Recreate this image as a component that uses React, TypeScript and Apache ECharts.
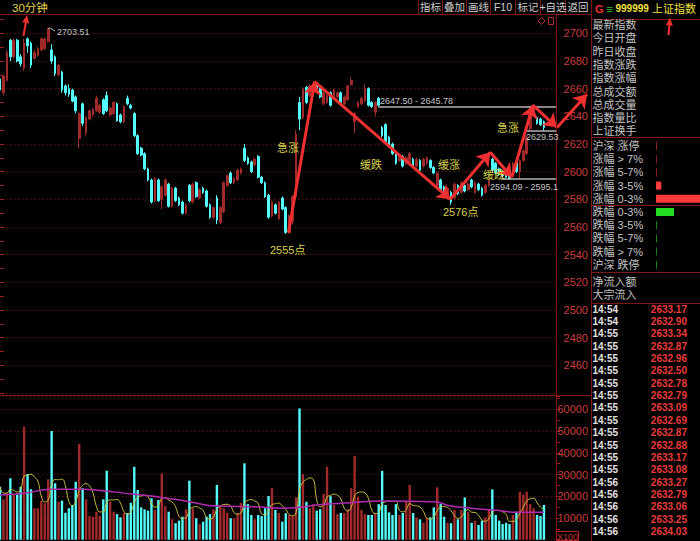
import React, { useEffect, useRef } from 'react';
import * as echarts from 'echarts';

const FONT = '"Liberation Sans", "Noto Sans CJK SC", sans-serif';

// ---- 30-minute candles (Shanghai Composite) ----
const opens = [
  2667, 2657, 2666, 2695, 2683, 2695, 2683, 2675, 2696, 2693,
  2682, 2684, 2688, 2689, 2694, 2688, 2683, 2670, 2672, 2662,
  2660, 2659, 2654, 2624, 2649, 2628, 2638, 2641, 2644, 2643,
  2652, 2655, 2641, 2642, 2649, 2641, 2636, 2653, 2648, 2642,
  2626, 2617, 2613, 2602, 2594, 2579, 2594, 2580, 2583, 2591,
  2575, 2588, 2581, 2578, 2570, 2590, 2578, 2592, 2581, 2588,
  2586, 2576, 2567, 2581, 2563, 2571, 2590, 2599, 2592, 2594,
  2599, 2617, 2610, 2607, 2605, 2611, 2596, 2592, 2583, 2568,
  2576, 2566, 2581, 2574, 2556, 2564, 2582, 2650, 2639, 2661,
  2655, 2661, 2663, 2660, 2649, 2650, 2657, 2653, 2654, 2657,
  2649, 2652, 2663, 2636, 2647, 2649, 2651, 2660, 2650, 2643,
  2653, 2632, 2634, 2625, 2620, 2613, 2608, 2611, 2606, 2607,
  2609, 2604, 2608, 2604, 2606, 2608, 2603, 2590, 2594, 2589,
  2581, 2585, 2581, 2590, 2585, 2590, 2587, 2594, 2585, 2591,
  2588, 2585, 2590, 2609, 2606, 2602, 2600, 2599, 2598, 2599,
  2607, 2600, 2608, 2613, 2631, 2642, 2639, 2638, 2636,
];
const closes = [
  2659, 2669, 2686, 2683, 2695, 2680, 2678, 2693, 2691, 2677,
  2686, 2689, 2696, 2696, 2703.51, 2680, 2671, 2677, 2659, 2657,
  2656, 2651, 2644, 2642, 2635, 2639, 2644, 2645, 2653, 2648,
  2642, 2644, 2646, 2650, 2637, 2636, 2647, 2649, 2646, 2626,
  2613, 2612, 2602, 2594, 2578, 2595, 2579, 2589, 2594, 2575,
  2588, 2579, 2576, 2570, 2576, 2579, 2591, 2582, 2587, 2585,
  2575, 2567, 2574, 2565, 2574, 2592, 2597, 2592, 2595, 2601,
  2602, 2608, 2606, 2600, 2609, 2596, 2592, 2582, 2567, 2578,
  2570, 2578, 2573, 2556, 2568, 2582, 2627, 2638, 2660, 2650,
  2662, 2664, 2658, 2654, 2657, 2655, 2648, 2659, 2657, 2650,
  2654, 2662, 2666, 2642, 2650, 2653, 2660, 2648, 2647, 2650,
  2648, 2626, 2621, 2619, 2613, 2606, 2612, 2604, 2610, 2613,
  2604, 2609, 2601, 2609, 2610, 2603, 2599, 2599, 2587, 2584,
  2588, 2578, 2591, 2584, 2592, 2586, 2591, 2589, 2592, 2587,
  2583, 2590, 2594, 2601, 2599, 2598, 2597, 2596, 2595, 2606,
  2600, 2608, 2615, 2625, 2646, 2648, 2635, 2634, 2632,
];
const lows = [
  2657, 2655, 2665, 2680, 2682, 2679, 2676, 2673, 2686, 2675,
  2681, 2683, 2687, 2688, 2693, 2678, 2669, 2669, 2657, 2655,
  2654, 2650, 2642, 2617, 2633, 2626, 2637, 2640, 2643, 2642,
  2641, 2643, 2640, 2641, 2636, 2635, 2635, 2648, 2645, 2625,
  2612, 2611, 2601, 2593, 2577, 2578, 2578, 2573, 2582, 2574,
  2574, 2578, 2575, 2569, 2569, 2578, 2577, 2581, 2580, 2584,
  2574, 2566, 2566, 2562, 2562, 2570, 2589, 2591, 2591, 2593,
  2598, 2607, 2605, 2599, 2604, 2595, 2591, 2581, 2566, 2567,
  2569, 2565, 2572, 2555, 2555, 2562, 2580, 2630, 2638, 2649,
  2654, 2660, 2657, 2653, 2648, 2649, 2647, 2652, 2653, 2649,
  2648, 2651, 2662, 2628, 2646, 2648, 2650, 2647, 2646, 2640,
  2647, 2625, 2620, 2618, 2612, 2605, 2607, 2603, 2605, 2606,
  2603, 2603, 2600, 2603, 2605, 2602, 2598, 2589, 2586, 2583,
  2580, 2576, 2580, 2583, 2584, 2585, 2586, 2588, 2584, 2586,
  2582, 2584, 2589, 2600, 2598, 2597, 2596, 2595, 2594.09, 2598,
  2599, 2594, 2607, 2612, 2630, 2641, 2634, 2633, 2629.53,
];
const highs = [
  2668, 2670, 2688, 2696, 2696, 2696, 2685, 2696, 2697, 2694,
  2688, 2690, 2697, 2697, 2703.51, 2692, 2684, 2678, 2673, 2663,
  2663, 2660, 2655, 2643, 2650, 2640, 2645, 2646, 2655, 2649,
  2653, 2658, 2647, 2651, 2650, 2642, 2648, 2655, 2649, 2643,
  2627, 2618, 2614, 2603, 2595, 2596, 2595, 2590, 2595, 2592,
  2589, 2589, 2582, 2579, 2577, 2591, 2592, 2593, 2588, 2589,
  2587, 2577, 2575, 2583, 2575, 2593, 2598, 2600, 2596, 2602,
  2603, 2620, 2611, 2608, 2610, 2612, 2597, 2593, 2584, 2579,
  2577, 2579, 2582, 2575, 2569, 2583, 2630, 2654, 2661, 2662,
  2663, 2665.5, 2664, 2661, 2658, 2656, 2658, 2660, 2658, 2658,
  2655, 2663, 2668, 2643, 2651, 2654, 2663, 2661, 2651, 2651,
  2654, 2633, 2635, 2626, 2621, 2614, 2613, 2612, 2611, 2614,
  2610, 2610, 2609, 2610, 2611, 2609, 2604, 2600, 2595, 2590,
  2589, 2586, 2592, 2591, 2593, 2591, 2592, 2595, 2593, 2592,
  2589, 2591, 2595, 2610, 2607, 2603, 2601, 2600, 2599, 2607,
  2608, 2609, 2616, 2626, 2647, 2649, 2640, 2639, 2637,
];
const volumes = [
  24400, 18600, 21400, 28300, 20800, 20800, 24400, 52100, 30300, 23200,
  14500, 14500, 18000, 16800, 27800, 50100, 26000, 17500, 18000, 12400,
  14500, 16000, 26700, 44100, 23700, 18600, 10900, 10600, 12900, 10900,
  18600, 31800, 17500, 12900, 11800, 10300, 12300, 12300, 17000, 33600,
  22900, 14900, 14000, 13400, 19100, 13700, 18300, 30600, 15500, 12900,
  9400, 7600, 8800, 10600, 14000, 27200, 14500, 9900, 7200, 8300,
  10600, 11800, 14000, 25200, 15500, 14500, 12400, 9900, 9900, 12300,
  17000, 35200, 16400, 11400, 9400, 11400, 10900, 14500, 20100, 23700,
  13700, 12300, 8300, 12200, 11400, 10900, 19500, 60500, 30300, 17500,
  14500, 16400, 13400, 14000, 21100, 33600, 20100, 16000, 11800, 12300,
  12400, 14000, 23700, 38600, 19800, 13700, 11800, 11400, 11400, 11800,
  16400, 31700, 16000, 12600, 11400, 16400, 11400, 12300, 17800, 25200,
  12300, 10300, 9400, 7800, 9900, 10300, 14900, 24100, 16400, 10600,
  7800, 7600, 13700, 9400, 13700, 19500, 12900, 7800, 8800, 6800,
  8800, 10300, 13700, 23200, 11400, 8800, 7200, 7800, 7200, 11400,
  12900, 22100, 20800, 22100, 16400, 14500, 11400, 10900, 16000,
];
// long volume average (purple) read at key candles: [candle index, volume]
const volLongAvg = [
  [0, 20600], [7, 21400], [15, 23200], [24, 23200], [29, 22700], [39, 20900],
  [47, 19500], [55, 17500], [63, 15500], [74, 15200], [82, 14500], [87, 14900],
  [92, 16000], [102, 17000], [111, 17800], [126, 17500], [131, 15500], [137, 14500],
  [145, 13400], [150, 12600], [158, 12600],
];
const SLOT_COUNT = 162;

// hand-drawn trend arrows: [candle position, price]
const trendPoints = [
  [83.8, 2556], [91.4, 2665], [130.8, 2580], [142.4, 2614],
  [148.7, 2596], [154.8, 2648], [161.8, 2632], [170.5, 2656],
];
// marked price levels: [start candle position, price]
const levelLines = [[109.9, 2646.7], [152.7, 2629.9], [145.4, 2595.2]];

// ---- side panel ----
const infoLabels = ['最新指数', '今日开盘', '昨日收盘', '指数涨跌', '指数涨幅', '总成交额', '总成交量', '指数量比', '上证换手'];
const breadthLabels = ['沪深 涨停', '涨幅 > 7%', '涨幅 5-7%', '涨幅 3-5%', '涨幅 0-3%', '跌幅 0-3%', '跌幅 3-5%', '跌幅 5-7%', '跌幅 > 7%', '沪深 跌停'];
const breadthValues = [0, 0, 0, 12, 140, 41, 0, 0, 0, 0];
const breadthColors = ['#8c2020', '#8c2020', '#8c2020', '#ff3a3a', '#ff3a3a', '#22dd22', '#1f7f1f', '#1f7f1f', '#1f7f1f', '#1f7f1f'];
const flowLabels = ['净流入额', '大宗流入'];
const tickTimes = ['14:54', '14:54', '14:55', '14:55', '14:55', '14:55', '14:55', '14:55', '14:55', '14:55', '14:55', '14:55', '14:55', '14:55', '14:56', '14:56', '14:56', '14:56', '14:56'];
const tickPrices = ['2633.17', '2632.90', '2633.34', '2632.87', '2632.96', '2632.50', '2632.78', '2632.79', '2633.09', '2632.69', '2632.87', '2632.88', '2633.17', '2633.08', '2633.27', '2632.79', '2633.06', '2633.25', '2634.03'];
const toolButtons = ['指标', '叠加', '画线', 'F10', '标记', '+自选', '返回'];

const UP = '#a02a2a';
const DOWN = '#54fcfc';
const BORDER = '#7c1818';
const YELLOW = '#d8d04c';
const GRAY = '#c4c4c4';

function buildGraphic() {
  const g: any[] = [];
  const line = (x1: number, y1: number, x2: number, y2: number, stroke = BORDER, lineWidth = 1) =>
    g.push({ type: 'line', silent: true, z: 100, shape: { x1, y1, x2, y2 }, style: { stroke, lineWidth } });
  const text = (x: number, y: number, t: string, fill: string, fontSize: number, extra: any = {}) =>
    g.push({
      type: 'text', silent: true, z: 110, x, y,
      style: { text: t, fill, fontSize, fontFamily: FONT, verticalAlign: 'middle', textVerticalAlign: 'middle', align: extra.align || 'left', textAlign: extra.align || 'left', fontWeight: extra.fontWeight || 'normal' },
    });
  const arrow = (x1: number, y1: number, x2: number, y2: number, len: number, half: number, w: number, color: string) => {
    const dx = x2 - x1, dy = y2 - y1, L = Math.hypot(dx, dy);
    const ux = dx / L, uy = dy / L;
    const bx = x2 - ux * len, by = y2 - uy * len;
    g.push({ type: 'line', silent: true, z: 100, shape: { x1, y1, x2: bx, y2: by }, style: { stroke: color, lineWidth: w } });
    g.push({ type: 'polygon', silent: true, z: 100, shape: { points: [[x2, y2], [bx - uy * half, by + ux * half], [bx + uy * half, by - ux * half]] }, style: { fill: color } });
  };

  // frame lines
  line(0, 14.5, 591, 14.5);
  line(0, 395.5, 591, 395.5);
  line(556.5, 14, 556.5, 541);
  line(591.5, 0, 591.5, 541);
  line(591, 19.5, 700, 19.5);
  line(591, 137.5, 700, 137.5);
  line(591, 205.5, 700, 205.5);
  line(591, 272.5, 700, 272.5);
  line(591, 303.5, 700, 303.5);

  // toolbar
  const seps = [418.5, 442.5, 466.5, 490.5, 515.5, 540.5, 565.5];
  seps.forEach((x) => line(x, 0, x, 14));
  const centers = [430.5, 454.5, 478.5, 503, 528, 553, 578];
  toolButtons.forEach((t, i) => text(centers[i], 7, t, '#cfcfcf', 10.5, { align: 'center' }));

  // small icons
  g.push({ type: 'polygon', silent: true, z: 100, shape: { points: [[541.5, 17.5], [545, 21], [541.5, 24.5], [538, 21]] }, style: { fill: 'none', stroke: '#b03030', lineWidth: 1 } });
  g.push({ type: 'rect', silent: true, z: 100, shape: { x: 548.5, y: 17.5, width: 5, height: 7 }, style: { fill: 'none', stroke: '#b03030', lineWidth: 1 } });

  // title + pointer
  text(12, 8, '30分钟', '#e2d64e', 11.5);
  arrow(23.5, 36, 27, 15, 8, 3.5, 2, '#f03030');

  // header of side panel
  text(595, 8.5, 'G', '#e83030', 11, { fontWeight: 'bold' });
  text(606.5, 8.5, '≡', '#30c030', 11);
  text(615.5, 8.5, '999999', '#f0e040', 10, { fontWeight: 'bold' });
  text(652, 8.5, '上证指数', '#f0e040', 11);
  arrow(668.5, 35, 670, 17.5, 8, 3.5, 2, '#f03030');

  // side panel texts
  infoLabels.forEach((t, i) => text(592.5, 25 + 13.3 * i, t, GRAY, 11));
  breadthLabels.forEach((t, i) => text(592.5, 146 + 13.2 * i, t, GRAY, 11));
  flowLabels.forEach((t, i) => text(592.5, 282 + 12.6 * i, t, GRAY, 11));
  tickTimes.forEach((t, i) => text(592.5, 309 + 12.37 * i, t, '#e0e0e0', 10, { fontWeight: 'bold' }));
  tickPrices.forEach((t, i) => text(687, 309 + 12.37 * i, t, '#e83c3c', 10, { align: 'right', fontWeight: 'bold' }));

  // volume unit box
  g.push({ type: 'rect', silent: true, z: 100, shape: { x: 556.5, y: 531.5, width: 22, height: 9 }, style: { fill: 'none', stroke: '#b02020', lineWidth: 1 } });
  text(567.5, 536.5, 'X100', '#c83232', 9, { align: 'center' });

  // annotations
  text(277, 148, '急涨', YELLOW, 11);
  text(270, 250, '2555点', YELLOW, 11);
  text(360, 165, '缓跌', YELLOW, 11);
  text(438, 165, '缓涨', YELLOW, 11);
  text(443, 212, '2576点', YELLOW, 11);
  text(483, 174.5, '缓跌', YELLOW, 11);
  text(497, 128, '急涨', YELLOW, 11);

  // price marks
  g.push({ type: 'polyline', silent: true, z: 100, shape: { points: [[48, 28.5], [50, 28], [55, 31]] }, style: { stroke: '#b0b0b0', lineWidth: 1, fill: 'none' } });
  text(57, 31.5, '2703.51', GRAY, 9);
  text(380, 101, '2647.50 - 2645.78', GRAY, 9);
  text(526, 137, '2629.53', GRAY, 9);
  text(490, 186.5, '2594.09 - 2595.1', GRAY, 9);
  return g;
}

function buildOption() {
  const slots = Array.from({ length: SLOT_COUNT }, (_, i) => String(i));
  const candles = opens.map((o, i) => [o, closes[i], lows[i], highs[i]]);
  const volBars = volumes.map((v, i) => ({ value: v, itemStyle: { color: closes[i] >= opens[i] ? UP : DOWN } }));
  const volMA5 = volumes.map((_, i) => {
    const s = volumes.slice(Math.max(0, i - 4), i + 1);
    return Math.round(s.reduce((a, b) => a + b, 0) / s.length);
  });
  const arrows = trendPoints.slice(1).map((p, i) => ({ coords: [trendPoints[i], p] }));
  const levels = levelLines.map(([x, p]) => ({ coords: [[x, p], [SLOT_COUNT - 0.5, p]] }));
  const labelStyle = { color: '#c83c3c', fontSize: 11, fontFamily: FONT, margin: 32, align: 'right' };
  const split = { show: true, lineStyle: { color: '#7e1a1a', type: [1, 3], width: 1 } };
  const tick = { show: true, length: 4, lineStyle: { color: '#a02020' } };

  return {
    animation: false,
    backgroundColor: '#000000',
    graphic: buildGraphic(),
    grid: [
      { left: -1.72, top: 14.5, width: 557.72, height: 378.5, outerBoundsMode: 'none', containLabel: false },
      { left: -1.72, top: 396, width: 557.72, height: 143.7, outerBoundsMode: 'none', containLabel: false },
      { left: 656, top: 139.4, width: 44, height: 132, outerBoundsMode: 'none', containLabel: false },
    ],
    xAxis: [
      { type: 'category', gridIndex: 0, data: slots, boundaryGap: true, show: false },
      { type: 'category', gridIndex: 1, data: slots, boundaryGap: true, show: false },
      { type: 'value', gridIndex: 0, min: -0.5, max: SLOT_COUNT - 0.5, show: false },
      { type: 'value', gridIndex: 2, min: 0, max: 100, show: false },
    ],
    yAxis: [
      {
        type: 'value', gridIndex: 0, position: 'right', min: 2440, max: 2713.6, interval: 20,
        axisLine: { show: false }, axisTick: tick,
        minorTick: { show: true, splitNumber: 2, length: 4, lineStyle: { color: '#a02020' } },
        axisLabel: { ...labelStyle, formatter: (v: number) => (v % 20 === 0 && v > 2440 && v <= 2700 ? String(v) : '') },
        splitLine: split,
      },
      {
        type: 'value', gridIndex: 1, position: 'right', min: 0, max: 66220, interval: 10000,
        axisLine: { show: false }, axisTick: tick,
        minorTick: { show: true, splitNumber: 2, length: 4, lineStyle: { color: '#a02020' } },
        axisLabel: { ...labelStyle, formatter: (v: number) => (v % 10000 === 0 && v >= 10000 && v <= 60000 ? String(v) : '') },
        splitLine: split,
      },
      { type: 'category', gridIndex: 2, data: breadthLabels, inverse: true, show: false },
    ],
    series: [
      {
        type: 'candlestick', xAxisIndex: 0, yAxisIndex: 0, data: candles, barWidth: 2.2,
        itemStyle: { color: UP, color0: DOWN, borderColor: UP, borderColor0: DOWN, borderWidth: 1 },
      },
      { type: 'bar', xAxisIndex: 1, yAxisIndex: 1, data: volBars, barWidth: 2.4 },
      {
        type: 'line', xAxisIndex: 1, yAxisIndex: 1, data: volMA5, smooth: true, showSymbol: false, symbol: 'none',
        lineStyle: { color: '#c8c03c', width: 1 }, z: 5,
      },
      {
        type: 'line', xAxisIndex: 1, yAxisIndex: 1, data: volLongAvg, smooth: true, showSymbol: false, symbol: 'none',
        lineStyle: { color: '#b02ab0', width: 1.5 }, z: 6,
      },
      {
        type: 'lines', coordinateSystem: 'cartesian2d', xAxisIndex: 2, yAxisIndex: 0, data: levels,
        symbol: 'none', lineStyle: { color: '#b4b4b4', width: 1.5, opacity: 1 }, z: 8,
      },
      {
        type: 'lines', coordinateSystem: 'cartesian2d', xAxisIndex: 2, yAxisIndex: 0, data: arrows, clip: false,
        symbol: ['none', 'arrow'], symbolSize: 13, lineStyle: { color: '#f03030', width: 3, opacity: 1 }, z: 20,
      },
      {
        type: 'bar', xAxisIndex: 3, yAxisIndex: 2, barWidth: 8, barMinHeight: 1,
        data: breadthValues.map((v, i) => ({ value: v, itemStyle: { color: breadthColors[i] } })),
      },
    ],
  };
}

export default function App() {
  const ref = useRef<HTMLDivElement>(null);
  useEffect(() => {
    document.body.style.margin = '0';
    document.body.style.background = '#000';
    const chart = echarts.init(ref.current!, null, { renderer: 'svg', width: 700, height: 541 });
    chart.setOption(buildOption() as any);
    return () => chart.dispose();
  }, []);
  return <div ref={ref} style={{ position: 'fixed', left: 0, top: 0, width: 700, height: 541, background: '#000' }} />;
}
